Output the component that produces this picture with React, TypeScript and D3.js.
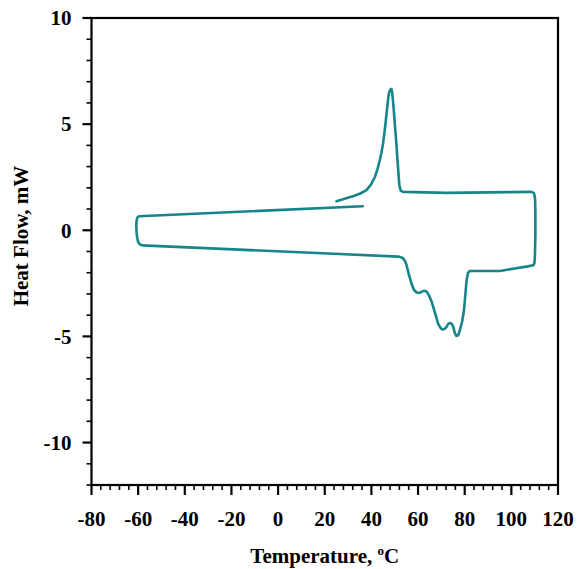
import React from "react";
import * as d3 from "d3";

// DSC curve (Temperature °C, Heat Flow mW), traced in drawing order
const temperature = [
  36.3, -59.6, -60.2, -60.6, -60.8, -60.7, -60.4, -60.0, -59.3, -58.2, 26.4, 51.5, 52.6,
  53.6, 54.4, 55.0, 56.0, 57.2, 58.2, 59.4, 60.5, 61.5, 62.6, 63.6, 64.6, 65.8, 67.3, 68.6, 69.5,
  70.0, 70.8, 71.5, 72.2, 73.0, 73.9, 74.5, 75.1, 75.8, 76.5, 77.2, 77.9, 78.9, 79.7, 80.3, 80.8,
  81.4, 82.2, 95.1, 100.8, 107, 109.4, 109.9, 110.1, 110.3, 110.3, 110.2, 110.0, 109.6, 108.5,
  72.2, 53.6, 52.6, 52.0, 51.5, 51.0, 50.5, 50.0, 49.6, 49.2, 48.9, 48.6, 48.3, 47.9, 47.5,
  47.2, 46.7, 46.2, 45.6, 45.0, 44.3, 43.6, 42.6, 41.5, 39.8, 37.9, 35.0, 32.1, 28.5, 25.0,
];
const heatFlow = [
  1.13, 0.66, 0.62, 0.5, 0.25, -0.1, -0.35, -0.55, -0.66, -0.71, -1.12, -1.24, -1.27,
  -1.32, -1.45, -1.62, -2.05, -2.52, -2.8, -2.93, -2.95, -2.9, -2.85, -2.88, -3.05, -3.35, -3.9, -4.4, -4.58,
  -4.64, -4.67, -4.64, -4.55, -4.4, -4.37, -4.42, -4.55, -4.85, -4.98, -4.95, -4.72, -4.3, -3.77, -3.0, -2.36,
  -2.0, -1.92, -1.92, -1.81, -1.7, -1.65, -1.55, -1.2, -0.2, 0.8, 1.4, 1.62, 1.76, 1.81,
  1.76, 1.81, 1.86, 2.1, 2.83, 3.6, 4.4, 5.05, 5.66, 6.15, 6.5, 6.65, 6.65, 6.58, 6.45,
  6.2, 5.7, 5.19, 4.6, 4.09, 3.65, 3.3, 2.88, 2.51, 2.15, 1.89, 1.72, 1.6, 1.48, 1.37,
];

const xMajorTicks = [-80, -60, -40, -20, 0, 20, 40, 60, 80, 100, 120];
const yMajorTicks = [10, 5, 0, -5, -10];

const W = 577;
const H = 569;
const left = 91.5;
const right = 558;
const top = 18;
const bottom = 485;

export default function App() {
  const x = d3.scaleLinear().domain([-80, 120]).range([left, right]);
  const y = d3.scaleLinear().domain([-12, 10]).range([bottom, top]);

  const pts: [number, number][] = temperature.map((t, i) => [t, heatFlow[i]]);
  const line = d3
    .line<[number, number]>()
    .x((d) => x(d[0]))
    .y((d) => y(d[1]))
    .curve(d3.curveLinear);

  const xMinor = d3.range(-80, 120.001, 4).filter((v) => !xMajorTicks.includes(v));
  const yMinor = d3.range(-12, 10.001, 1).filter((v) => !yMajorTicks.includes(v));

  const font = "'Liberation Serif', 'Times New Roman', serif";

  return (
    <svg
      width={W}
      height={H}
      style={{ position: "absolute", left: 0, top: 0, background: "#fff" }}
      fontFamily={font}
      fontWeight="bold"
    >
      <rect x={0} y={0} width={W} height={H} fill="#fff" />
      {/* curve */}
      <path d={line(pts) || ""} fill="none" stroke="#168589" strokeWidth={2.6} strokeLinejoin="round" strokeLinecap="round" />
      {/* frame */}
      <rect x={left} y={top} width={right - left} height={bottom - top} fill="none" stroke="#000" strokeWidth={2.2} />
      {/* y ticks */}
      {yMajorTicks.map((v) => (
        <g key={"ym" + v}>
          <line x1={left - 9} x2={left} y1={y(v)} y2={y(v)} stroke="#000" strokeWidth={2.2} />
          <text x={left - 20} y={y(v)} dy="0.35em" textAnchor="end" fontSize={21}>
            {v}
          </text>
        </g>
      ))}
      {yMinor.map((v) => (
        <line key={"yn" + v} x1={left - 5} x2={left} y1={y(v)} y2={y(v)} stroke="#000" strokeWidth={1.6} />
      ))}
      {/* x ticks */}
      {xMajorTicks.map((v) => (
        <g key={"xm" + v}>
          <line x1={x(v)} x2={x(v)} y1={bottom} y2={bottom + 10} stroke="#000" strokeWidth={2.2} />
          <text x={x(v)} y={526} textAnchor="middle" fontSize={21}>
            {v}
          </text>
        </g>
      ))}
      {xMinor.map((v) => (
        <line key={"xn" + v} x1={x(v)} x2={x(v)} y1={bottom} y2={bottom + 5} stroke="#000" strokeWidth={1.6} />
      ))}
      {/* axis titles */}
      <text x={(left + right) / 2} y={563} textAnchor="middle" fontSize={21}>
        Temperature, <tspan dy={-8} fontSize={13}>o</tspan>
        <tspan dy={8}>C</tspan>
      </text>
      <text transform={`translate(28, 236) rotate(-90)`} textAnchor="middle" fontSize={21}>
        Heat Flow, mW
      </text>
    </svg>
  );
}
